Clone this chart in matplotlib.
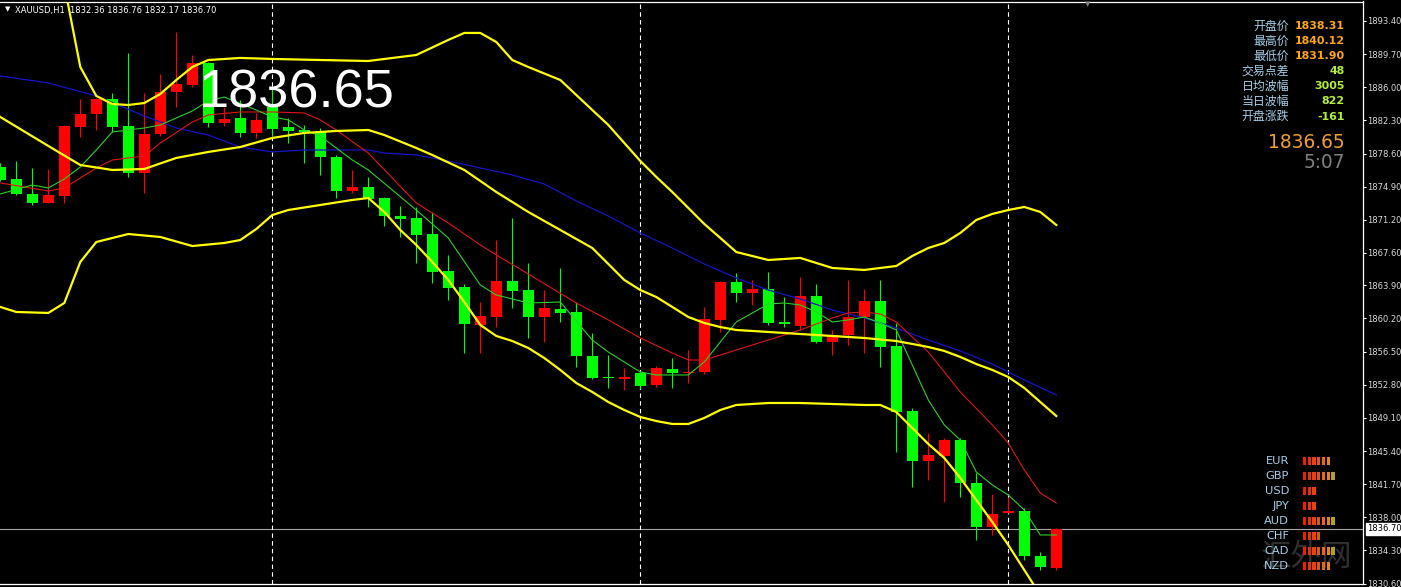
import matplotlib.pyplot as plt
from matplotlib.transforms import blended_transform_factory

# XAUUSD H1 candles (open, high, low, close), oldest first
opens = [1877.14, 1875.76, 1874.09, 1873.12, 1873.90, 1881.60, 1883.00, 1884.69, 1881.68, 1876.47,
         1880.78, 1885.51, 1886.25, 1888.68, 1882.05, 1882.54, 1880.93, 1883.83, 1881.53, 1881.23,
         1881.04, 1878.25, 1874.46, 1874.90, 1873.61, 1871.63, 1871.38, 1869.62, 1865.49, 1863.74,
         1859.47, 1860.39, 1864.38, 1863.38, 1860.39, 1861.22, 1860.95, 1856.01, 1853.70, 1853.48,
         1854.08, 1852.78, 1854.56, 1854.08, 1854.26, 1860.03, 1864.30, 1863.07, 1863.45, 1859.80,
         1859.39, 1862.74, 1857.60, 1858.35, 1860.33, 1862.15, 1857.16, 1849.87, 1844.32, 1844.88,
         1846.63, 1841.80, 1836.96, 1838.45, 1838.74, 1833.69, 1832.36]
highs = [1877.60, 1877.77, 1876.96, 1876.85, 1881.75, 1884.66, 1884.75, 1885.33, 1889.86, 1885.33,
         1887.45, 1892.20, 1889.60, 1888.80, 1883.83, 1884.58, 1883.10, 1885.88, 1882.54, 1881.80,
         1881.45, 1878.44, 1876.77, 1876.02, 1873.79, 1872.75, 1872.60, 1872.11, 1867.28, 1864.04,
         1862.07, 1868.95, 1871.38, 1866.35, 1863.38, 1865.80, 1862.07, 1858.54, 1856.12, 1854.63,
         1854.33, 1854.89, 1855.75, 1856.68, 1861.51, 1864.40, 1865.24, 1864.49, 1865.42, 1862.63,
         1864.86, 1864.04, 1858.91, 1864.49, 1863.45, 1864.49, 1859.73, 1850.17, 1847.38, 1846.82,
         1846.82, 1842.92, 1840.57, 1840.31, 1839.08, 1834.17, 1836.76]
lows = [1875.50, 1874.00, 1872.86, 1873.05, 1873.05, 1880.42, 1881.23, 1881.04, 1876.02, 1874.23,
        1880.60, 1883.83, 1886.00, 1881.60, 1881.68, 1880.48, 1880.30, 1880.56, 1879.75, 1877.55,
        1876.21, 1873.61, 1874.23, 1872.67, 1870.52, 1869.32, 1866.42, 1864.12, 1862.26, 1856.31,
        1856.31, 1859.28, 1861.33, 1857.98, 1857.60, 1859.84, 1854.81, 1853.41, 1852.40, 1852.21,
        1852.33, 1852.59, 1852.47, 1852.96, 1853.97, 1858.72, 1862.07, 1861.70, 1859.47, 1859.28,
        1858.91, 1857.42, 1856.12, 1857.24, 1856.38, 1854.81, 1845.33, 1841.42, 1842.17, 1839.75,
        1840.24, 1835.47, 1836.03, 1838.45, 1833.24, 1832.12, 1832.17]
closes = [1875.65, 1874.06, 1873.12, 1874.01, 1881.68, 1883.02, 1884.69, 1881.60, 1876.40, 1880.78,
          1885.51, 1886.37, 1888.68, 1882.05, 1882.43, 1880.93, 1882.35, 1881.38, 1881.09, 1881.04,
          1878.25, 1874.46, 1874.90, 1873.53, 1871.67, 1871.33, 1869.51, 1865.42, 1863.63, 1859.55,
          1860.47, 1864.38, 1863.30, 1860.39, 1861.33, 1860.84, 1856.04, 1853.59, 1853.52, 1853.70,
          1852.66, 1854.70, 1854.14, 1854.26, 1860.10, 1864.30, 1863.07, 1863.49, 1859.73, 1859.55,
          1862.74, 1857.60, 1858.35, 1860.33, 1862.15, 1857.05, 1849.79, 1844.32, 1844.96, 1846.63,
          1841.80, 1836.96, 1838.38, 1838.74, 1833.69, 1832.49, 1836.70]

# Bollinger bands (at candle indices)
bb_up_idx = [4, 5, 6, 7, 8, 9, 10, 11, 12, 13, 15, 17, 20, 23, 26, 28, 29, 30, 31, 32, 33, 35, 37, 38,
             40, 41, 42, 43, 44, 45, 46, 48, 50, 52, 54, 56, 57, 58, 59, 60, 61, 62, 63, 64, 65, 66]
bb_up = [1897.41, 1888.26, 1885.03, 1884.13, 1884.02, 1884.24, 1885.25, 1886.81, 1888.26, 1889.04,
         1889.27, 1889.16, 1889.04, 1888.93, 1889.60, 1891.28, 1892.06, 1892.06, 1891.05, 1889.04,
         1888.26, 1886.81, 1883.46, 1881.79, 1877.77, 1875.99, 1874.31, 1872.53, 1870.74, 1869.18,
         1867.61, 1866.72, 1866.95, 1865.83, 1865.61, 1866.05, 1867.17, 1868.06, 1868.62, 1869.74,
         1871.19, 1871.86, 1872.30, 1872.64, 1872.08, 1870.63]
bb_mid_idx = [0, 3, 5, 7, 9, 11, 13, 15, 17, 19, 21, 23, 24, 26, 27, 29, 31, 33, 35, 37, 38, 39, 40,
              41, 42, 43, 44, 45, 46, 48, 50, 52, 54, 56, 57, 58, 59, 60, 61, 62, 63, 64, 65, 66]
bb_mid = [1882.68, 1879.45, 1877.32, 1876.77, 1876.88, 1878.11, 1878.78, 1879.33, 1880.34, 1880.90,
          1881.12, 1881.23, 1880.67, 1879.22, 1878.44, 1876.77, 1874.31, 1872.08, 1870.07, 1868.06,
          1866.28, 1864.49, 1863.37, 1862.59, 1861.48, 1860.36, 1859.69, 1859.24, 1858.91, 1858.69,
          1858.46, 1858.24, 1858.02, 1857.68, 1857.35, 1857.01, 1856.57, 1855.90, 1855.11, 1854.45,
          1853.66, 1852.44, 1850.87, 1849.31]
bb_low_idx = [0, 1, 3, 4, 5, 6, 8, 10, 12, 14, 15, 16, 17, 18, 20, 22, 23, 24, 25, 26, 27, 28, 29,
              30, 31, 32, 33, 34, 35, 36, 37, 38, 39, 40, 41, 42, 43, 44, 45, 46, 48, 50, 52, 54, 55,
              56, 57, 58, 59, 60, 61, 62, 63, 64, 65]
bb_low = [1861.48, 1860.92, 1860.81, 1861.92, 1866.50, 1868.73, 1869.62, 1869.29, 1868.28, 1868.62,
          1868.95, 1870.18, 1871.74, 1872.30, 1872.86, 1873.42, 1873.64, 1872.08, 1870.07, 1868.40,
          1866.50, 1864.49, 1862.03, 1859.47, 1858.24, 1857.68, 1856.90, 1855.78, 1854.45, 1852.99,
          1851.99, 1850.87, 1849.98, 1849.20, 1848.75, 1848.42, 1848.42, 1849.09, 1849.98, 1850.54,
          1850.76, 1850.76, 1850.65, 1850.54, 1850.54, 1849.76, 1847.97, 1846.19, 1844.62, 1842.39,
          1839.94, 1837.48, 1834.91, 1832.12, 1829.33]

# moving averages
ma_blue_idx = [0, 3, 6, 9, 11, 13, 15, 17, 19, 23, 24, 26, 28, 30, 32, 34, 36, 38, 40, 42, 44, 46,
               48, 50, 52, 54, 56, 58, 60, 62, 64, 66]
ma_blue = [1887.26, 1886.48, 1885.03, 1882.79, 1881.45, 1880.67, 1879.33, 1878.78, 1879.00, 1879.00,
           1878.66, 1878.44, 1877.77, 1876.99, 1876.21, 1875.20, 1873.31, 1871.63, 1869.74, 1868.06,
           1866.28, 1864.71, 1863.37, 1862.37, 1861.14, 1860.25, 1859.13, 1857.79, 1856.57, 1855.11,
           1853.33, 1851.66]
ma_red_idx = [0, 3, 4, 6, 7, 9, 10, 12, 13, 15, 17, 19, 20, 21, 23, 26, 28, 30, 31, 33, 36, 38, 40,
              42, 43, 44, 46, 48, 50, 52, 53, 54, 55, 56, 58, 60, 62, 63, 64, 65, 66]
ma_red = [1875.32, 1874.42, 1874.76, 1876.99, 1877.88, 1878.33, 1879.78, 1882.12, 1882.91, 1883.24,
          1883.24, 1883.13, 1882.35, 1881.23, 1878.66, 1873.08, 1870.85, 1868.40, 1867.28, 1865.16,
          1861.92, 1860.03, 1858.02, 1856.34, 1855.56, 1855.56, 1856.68, 1857.79, 1858.91, 1860.25,
          1860.81, 1860.92, 1860.70, 1859.80, 1856.45, 1851.99, 1848.31, 1846.30, 1843.28, 1840.72,
          1839.60]
ma_green_idx = [0, 2, 3, 4, 5, 6, 7, 9, 10, 12, 13, 14, 16, 17, 18, 19, 20, 22, 23, 26, 28, 30, 31,
                33, 35, 37, 38, 40, 41, 43, 44, 45, 46, 48, 49, 50, 51, 52, 53, 54, 55, 56, 57, 58,
                59, 60, 61, 62, 63, 64, 65, 66]
ma_green = [1874.09, 1875.09, 1874.76, 1875.76, 1877.10, 1879.00, 1881.01, 1881.45, 1881.79, 1883.35,
            1884.47, 1884.91, 1883.46, 1882.68, 1882.35, 1881.23, 1880.56, 1877.88, 1876.77, 1872.30,
            1869.18, 1863.93, 1862.82, 1861.92, 1862.03, 1857.79, 1856.45, 1854.22, 1853.89, 1853.89,
            1855.34, 1857.57, 1859.80, 1861.81, 1861.92, 1861.70, 1860.92, 1859.80, 1860.03, 1860.36,
            1859.69, 1858.91, 1855.00, 1851.10, 1848.31, 1846.63, 1843.06, 1841.61, 1840.49, 1838.82,
            1836.03, 1836.03]

day_breaks = [17, 40, 63]
last_price = 1836.70

ytick_vals = [1893.40, 1889.70, 1886.00, 1882.30, 1878.60, 1874.90, 1871.20, 1867.55, 1863.90,
              1860.20, 1856.50, 1852.80, 1849.10, 1845.40, 1841.70, 1838.00, 1834.30, 1830.60]
ytick_labels = ['1893.40', '1889.70', '1886.00', '1882.30', '1878.60', '1874.90', '1871.20',
                '1867.60', '1863.90', '1860.20', '1856.50', '1852.80', '1849.10', '1845.40',
                '1841.70', '1838.00', '1834.30', '1830.60']

info_labels = ['开盘价', '最高价', '最低价', '交易点差', '日均波幅', '当日波幅', '开盘涨跌']
info_values = ['1838.31', '1840.12', '1831.90', '48', '3005', '822', '-161']
currencies = ['EUR', 'GBP', 'USD', 'JPY', 'AUD', 'CHF', 'CAD', 'NZD']
strength = [6, 7, 3, 3, 7, 4, 7, 6]

W, H = 1401, 587
fig = plt.figure(figsize=(W / 100, H / 100), dpi=100, facecolor='black')
ax = fig.add_axes([0, 3 / H, 1363 / W, 582.5 / H])
ax.set_facecolor('black')


def px(x, y):
    return x / W, 1 - y / H


# price line under candles
ax.axhline(last_price, color='#a8a8a8', lw=0.8, zorder=1)
for d in day_breaks:
    ax.axvline(d, color='white', lw=0.8, ls=(0, (4, 3)), zorder=1)

for i in range(len(opens)):
    o, h, l, c = opens[i], highs[i], lows[i], closes[i]
    col = '#ff0000' if c >= o else '#00ff00'
    ax.vlines(i, l, h, color=col, lw=0.8, zorder=2)
    body = max(abs(c - o), 0.12)
    ax.bar(i, body, bottom=min(o, c), width=0.68, color=col, linewidth=0, zorder=3)

ax.plot(ma_blue_idx, ma_blue, color='#1414c8', lw=0.9, zorder=4)
ax.plot(ma_red_idx, ma_red, color='#e01414', lw=0.8, zorder=4)
ax.plot(ma_green_idx, ma_green, color='#28d228', lw=0.8, zorder=4)
for xs, ys in [(bb_up_idx, bb_up), (bb_mid_idx, bb_mid), (bb_low_idx, bb_low)]:
    ax.plot(xs, ys, color='#ffff00', lw=1.6, zorder=5)

ax.set_xlim(-0.3 / 16, 1362.7 / 16)
ax.set_ylim(1830.56, 1895.57)
ax.set_xticks([])
ax.yaxis.tick_right()
ax.set_yticks(ytick_vals)
ax.set_yticklabels(ytick_labels)
ax.tick_params(axis='y', colors='white', labelcolor='#d8d8d8', labelsize=6, length=2.5,
               width=0.8, pad=0.6)
for s in ['top', 'bottom', 'right']:
    ax.spines[s].set_color('white')
    ax.spines[s].set_linewidth(0.9)
ax.spines['left'].set_visible(False)

# last price tag on the axis
tr = blended_transform_factory(ax.transAxes, ax.transData)
ax.text(1.003, last_price, '1836.70', transform=tr, fontsize=6, color='black', va='center',
        ha='left', clip_on=False, zorder=6,
        bbox=dict(boxstyle='square,pad=0.15', facecolor='white', edgecolor='white'))

# header
fig.text(*px(5, 9.5), '▼', color='white', fontsize=5, va='center', ha='left')
fig.text(*px(15, 10), 'XAUUSD,H1  1832.36 1836.76 1832.17 1836.70', color='white', fontsize=6,
         va='center', ha='left')

# big bid price
fig.text(*px(199, 93), '1836.65', color='white', fontsize=39, family='Liberation Sans',
         va='center', ha='left', zorder=7)

# info panel
for k, (lab, val) in enumerate(zip(info_labels, info_values)):
    y = 26 + 15.1 * k
    fig.text(*px(1289, y), lab, color='#a4cfe8', fontsize=8.6, family='Noto Sans CJK SC',
             va='center', ha='right')
    vcol = '#ffa514' if k < 3 else '#b4f032'
    fig.text(*px(1345, y), val, color=vcol, fontsize=7.9, fontweight='bold', va='center',
             ha='right')
fig.text(*px(1345, 143), '1836.65', color='#eea032', fontsize=13.4, va='center', ha='right')
fig.text(*px(1345, 163), '5:07', color='#808080', fontsize=13.4, va='center', ha='right')

# watermark
fig.text(*px(1306, 557), '汇外网', color='#3c3c3c', fontsize=22, family='Noto Sans CJK SC',
         va='center', ha='center', alpha=0.8, zorder=0)

# currency strength
bar_cols = ['#e8200c', '#e8300c', '#e8400e', '#e85210', '#e86814', '#e08420', '#b4a028']
for k, (cur, n) in enumerate(zip(currencies, strength)):
    y = 461 + 15 * k
    fig.text(*px(1289, y), cur, color='#a4cfe8', fontsize=8.2, va='center', ha='right')
    for j in range(n):
        x0, y0 = px(1303 + 4.7 * j, y + 4)
        fig.patches.append(plt.Rectangle((x0, y0), 3.3 / W, 8.5 / H, transform=fig.transFigure,
                                         facecolor=bar_cols[j], edgecolor='none'))

# small shift marker at the top
fig.text(*px(1088, 4), '▼', color='#808080', fontsize=5, va='center', ha='center')

fig.savefig('out.png', dpi=100, facecolor='black')
